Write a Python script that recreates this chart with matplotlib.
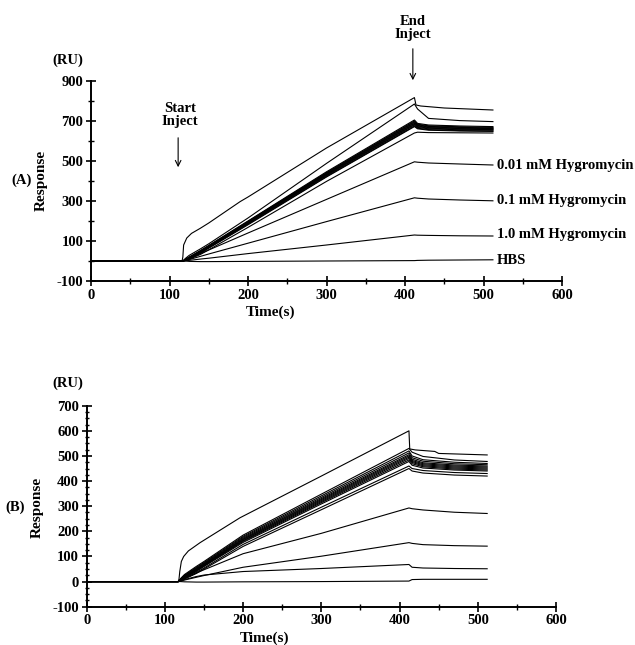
import matplotlib
matplotlib.use('Agg')
import matplotlib.pyplot as plt
from matplotlib.ticker import MultipleLocator, FixedLocator

plt.rcParams['font.family'] = ['Liberation Serif', 'DejaVu Serif']
plt.rcParams['font.weight'] = 'bold'
plt.rcParams['axes.unicode_minus'] = False

# ---------------- data ----------------
time_s = [0, 117, 120, 125, 140, 150, 200, 300, 412, 416, 430, 470, 512]

# Panel A sensorgrams (RU)
a_fast_time = [0, 116, 117, 118, 122, 128, 139, 150, 190, 200, 300, 412, 414, 420, 450, 512]
a_fast = [0, 0, 20, 80, 115, 138, 163, 190, 297, 320, 565, 817, 780, 775, 765, 755]
a_curve2 = [0, 0, 12, 28, 62, 86, 215, 488, 785, 760, 713, 702, 697]
a_curve3 = [0, 0, 8, 20, 54, 78, 200, 446, 705, 688, 680, 675, 672]
a_curve4 = [0, 0, 7, 18, 52, 76, 198, 442, 700, 684, 676, 671, 668]
a_curve5 = [0, 0, 6, 17, 50, 74, 196, 439, 696, 681, 673, 668, 665]
a_curve6 = [0, 0, 6, 16, 49, 73, 194, 436, 692, 678, 670, 665, 662]
a_curve7 = [0, 0, 5, 15, 47, 71, 192, 433, 688, 675, 667, 662, 660]
a_curve8 = [0, 0, 5, 14, 46, 70, 190, 430, 684, 672, 664, 659, 657]
a_curve9 = [0, 0, 4, 13, 44, 68, 187, 427, 680, 668, 661, 656, 654]
a_curve10 = [0, 0, 4, 12, 42, 66, 184, 423, 675, 664, 657, 652, 650]
a_curve11 = [0, 0, 3, 11, 40, 64, 181, 420, 672, 661, 654, 650, 648]
a_curve12 = [0, 0, 2, 8, 34, 56, 168, 398, 640, 644, 642, 641, 640]
a_hyg001 = [0, 0, 3, 12, 38, 55, 140, 308, 496, 494, 490, 485, 480]
a_hyg01 = [0, 0, 2, 7, 24, 35, 89, 197, 316, 314, 310, 305, 301]
a_hyg1 = [0, 0, 1, 3, 10, 14, 37, 80, 130, 129, 128, 126, 125]
a_hbs = [0, 0, 0, -2, -3, -3, -2, 0, 2, 3, 4, 5, 6]

# Panel B sensorgrams (RU)
b_fast_time = [0, 117, 118, 119, 121, 124, 130, 145, 196, 300, 412, 413, 420, 445, 450, 512]
b_fast = [0, 0, 10, 40, 80, 100, 122, 155, 254, 420, 600, 528, 524, 518, 510, 504]
b_curve2 = [0, 0, 12, 28, 60, 80, 185, 348, 530, 515, 498, 484, 478]
b_curve3 = [0, 0, 10, 25, 56, 76, 180, 341, 520, 500, 485, 475, 470]
b_curve4 = [0, 0, 9, 23, 53, 73, 176, 335, 512, 493, 479, 469, 465]
b_curve5 = [0, 0, 8, 21, 50, 70, 172, 330, 505, 487, 473, 464, 460]
b_curve6 = [0, 0, 7, 20, 48, 68, 169, 326, 500, 482, 469, 460, 456]
b_curve7 = [0, 0, 6, 18, 46, 66, 166, 322, 495, 478, 465, 456, 452]
b_curve8 = [0, 0, 5, 17, 44, 64, 163, 318, 490, 474, 461, 452, 448]
b_curve9 = [0, 0, 5, 16, 42, 62, 160, 314, 484, 469, 457, 448, 444]
b_curve10 = [0, 0, 4, 14, 40, 60, 156, 309, 478, 463, 452, 444, 440]
b_curve11 = [0, 0, 3, 12, 36, 54, 148, 296, 460, 450, 442, 434, 430]
b_curve12 = [0, 0, 2, 10, 32, 50, 140, 286, 450, 440, 432, 424, 420]
b_curve13 = [0, 0, 4, 12, 34, 47, 111, 192, 293, 290, 285, 276, 271]
b_curve14 = [0, 0, 2, 6, 17, 24, 57, 101, 155, 152, 147, 143, 141]
b_curve15 = [0, 0, 3, 8, 20, 26, 40, 52, 68, 57, 54, 52, 51]
b_curve16 = [0, 0, 0, -1, -2, -2, -1, 0, 2, 8, 9, 9, 9]

a_labels = ["0.01 mM Hygromycin", "0.1 mM Hygromycin", "1.0 mM Hygromycin", "HBS"]
a_label_y = [475, 305, 135, 5]

a_yticks_major = [-100, 100, 300, 500, 700, 900]
a_yticks_minor = [0, 200, 400, 600, 800]
b_yticks_major = [-100, 0, 100, 200, 300, 400, 500, 600, 700]
x_ticks = [0, 100, 200, 300, 400, 500, 600]

# ---------------- figure ----------------
W, H = 635, 645
fig = plt.figure(figsize=(W / 100, H / 100), dpi=100)
axA = fig.add_axes([91 / W, 1 - 281 / H, 471 / W, 200 / H])
axB = fig.add_axes([86.7 / W, 1 - 606.7 / H, 469.3 / W, 201 / H])

a_curves = [a_curve2, a_curve3, a_curve4, a_curve5, a_curve6, a_curve7,
            a_curve8, a_curve9, a_curve10, a_curve11, a_curve12,
            a_hyg001, a_hyg01, a_hyg1, a_hbs]
b_curves = [b_curve2, b_curve3, b_curve4, b_curve5, b_curve6, b_curve7,
            b_curve8, b_curve9, b_curve10, b_curve11, b_curve12,
            b_curve13, b_curve14, b_curve15, b_curve16]

axA.plot(a_fast_time, a_fast, color='black', lw=0.8)
for c in a_curves:
    axA.plot(time_s, c, color='black', lw=0.8)
axB.plot(b_fast_time, b_fast, color='black', lw=0.8)
for c in b_curves:
    axB.plot(time_s, c, color='black', lw=0.8)

for ax in (axA, axB):
    ax.spines['top'].set_visible(False)
    ax.spines['right'].set_visible(False)
    ax.spines['left'].set_linewidth(1.4)
    ax.spines['bottom'].set_linewidth(1.4)
    ax.set_xlim(0, 600)
    ax.xaxis.set_major_locator(FixedLocator(x_ticks))
    ax.xaxis.set_minor_locator(MultipleLocator(50))
    ax.tick_params(which='major', direction='inout', length=7, width=1.2,
                   labelsize=10.5, pad=2)
    ax.tick_params(which='minor', direction='inout', length=4, width=1.0)

axA.set_ylim(-100, 900)
axA.yaxis.set_major_locator(FixedLocator(a_yticks_major))
axA.yaxis.set_minor_locator(FixedLocator(a_yticks_minor))
axB.set_ylim(-100, 700)
axB.yaxis.set_major_locator(FixedLocator(b_yticks_major))
axB.yaxis.set_minor_locator(MultipleLocator(25))
axB.tick_params(axis='y', which='minor', length=3)

# curve labels panel A
for lab, y in zip(a_labels, a_label_y):
    axA.text(517, y, lab, ha='left', va='center', fontsize=10.5, fontweight='bold')

# inject annotations panel A
axA.text(113, 730, "Start\nInject", ha='center', va='center', fontsize=10.5,
         fontweight='bold', linespacing=1.0)
axA.annotate('', xy=(111, 455), xytext=(111, 630),
             arrowprops=dict(arrowstyle='->', lw=0.8, color='black'))
axA.text(410, 1165, "End\nInject", ha='center', va='center', fontsize=10.5,
         fontweight='bold', linespacing=1.0, clip_on=False)
axA.annotate('', xy=(410, 890), xytext=(410, 1075),
             arrowprops=dict(arrowstyle='->', lw=0.8, color='black'),
             annotation_clip=False)

# figure texts
fig.text(68 / W, 1 - 60 / H, "(RU)", ha='center', va='center', fontsize=10.5)
fig.text(41 / W, 1 - 180 / H, "Response", ha='center', va='center', rotation=90,
         fontsize=11)
fig.text(22 / W, 1 - 180 / H, "(A)", ha='center', va='center', fontsize=10.5)
fig.text(270 / W, 1 - 312 / H, "Time(s)", ha='center', va='center', fontsize=11)

fig.text(68 / W, 1 - 383 / H, "(RU)", ha='center', va='center', fontsize=10.5)
fig.text(37 / W, 1 - 507 / H, "Response", ha='center', va='center', rotation=90,
         fontsize=11)
fig.text(15 / W, 1 - 507 / H, "(B)", ha='center', va='center', fontsize=10.5)
fig.text(265 / W, 1 - 638 / H, "Time(s)", ha='center', va='center', fontsize=11)

fig.savefig('out.png', dpi=100)
